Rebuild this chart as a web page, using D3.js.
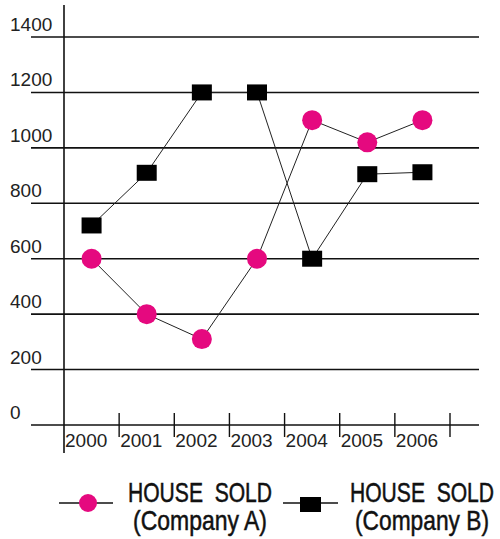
<!DOCTYPE html>
<html>
<head>
<meta charset="utf-8">
<script src="https://cdn.jsdelivr.net/npm/d3@7"></script>
<style>
  html, body { margin: 0; padding: 0; background: #fff; }
  .tick-label { font-family: "Liberation Sans", Arial, sans-serif; font-size: 19px; fill: #222; }
  .legend-text { font-family: "Liberation Sans Narrow", "Liberation Sans", Arial, sans-serif; font-size: 27px; fill: #111; stroke: #111; stroke-width: 0.5px; }
</style>
</head>
<body>
<svg id="chart" width="500" height="539"></svg>
<script>

const YEARS = ["2000", "2001", "2002", "2003", "2004", "2005", "2006"];
const Y_TICKS = [0, 200, 400, 600, 800, 1000, 1200, 1400];
const COMPANY_A = [600, 400, 310, 600, 1100, 1020, 1100];
const COMPANY_B = [720, 910, 1200, 1200, 600, 905, 912];
const LEGEND_TITLE = "HOUSE  SOLD";
const LEGEND_NAMES = ["(Company A)", "(Company B)"];

const PINK = "#e5097f";

let svg = d3.select("#chart");

let x = d3.scaleBand().domain(YEARS).range([64, 450]);
let y = d3.scaleLinear().domain([0, 1400]).range([425, 37]);
const cx = d => x(d) + x.bandwidth() / 2;


/*
  Horizontal grid lines, y axis labels and the vertical axis.
*/
const buildGrid = () => {
  svg.append("g")
     .selectAll("line")
     .data(Y_TICKS).enter()
     .append("line")
     .attr("x1", 31)
     .attr("x2", 479)
     .attr("y1", d => y(d))
     .attr("y2", d => y(d))
     .attr("stroke", "#111")
     .attr("stroke-width", 1.6);

  svg.append("g")
     .selectAll("text")
     .data(Y_TICKS).enter()
     .append("text")
     .attr("class", "tick-label")
     .attr("x", 10)
     .attr("y", d => y(d) - 6)
     .text(d => d);

  svg.append("line")
     .attr("x1", 64).attr("x2", 64)
     .attr("y1", 5).attr("y2", 453)
     .attr("stroke", "#111")
     .attr("stroke-width", 1.6);
}


/*
  Year ticks and labels below the chart.
*/
const buildXAxis = () => {
  svg.append("g")
     .selectAll("line")
     .data(YEARS).enter()
     .append("line")
     .attr("x1", d => x(d) + x.step())
     .attr("x2", d => x(d) + x.step())
     .attr("y1", 413)
     .attr("y2", 437)
     .attr("stroke", "#111")
     .attr("stroke-width", 1.4);

  svg.append("g")
     .selectAll("text")
     .data(YEARS).enter()
     .append("text")
     .attr("class", "tick-label")
     .attr("x", d => x(d) + 1)
     .attr("y", 447)
     .text(d => d);
}


const buildSeries = () => {
  let line = d3.line().x((d, i) => cx(YEARS[i])).y(d => y(d));

  svg.append("path")
     .attr("d", line(COMPANY_A))
     .attr("fill", "none")
     .attr("stroke", "#222")
     .attr("stroke-width", 1);

  svg.append("path")
     .attr("d", line(COMPANY_B))
     .attr("fill", "none")
     .attr("stroke", "#222")
     .attr("stroke-width", 1);

  svg.append("g")
     .selectAll("circle")
     .data(COMPANY_A).enter()
     .append("circle")
     .attr("cx", (d, i) => cx(YEARS[i]))
     .attr("cy", d => y(d))
     .attr("r", 10)
     .attr("fill", PINK);

  svg.append("g")
     .selectAll("rect")
     .data(COMPANY_B).enter()
     .append("rect")
     .attr("x", (d, i) => cx(YEARS[i]) - 10)
     .attr("y", d => y(d) - 8)
     .attr("width", 20)
     .attr("height", 16)
     .attr("fill", "#000");
}


const buildLegend = () => {
  const SQUEEZE = 0.8;
  let legend = svg.append("g");

  // company A
  legend.append("line")
        .attr("x1", 59).attr("x2", 113)
        .attr("y1", 503).attr("y2", 503)
        .attr("stroke", "#111").attr("stroke-width", 1.4);
  legend.append("circle")
        .attr("cx", 88).attr("cy", 503).attr("r", 9)
        .attr("fill", PINK);

  // company B
  legend.append("line")
        .attr("x1", 283).attr("x2", 338)
        .attr("y1", 503).attr("y2", 503)
        .attr("stroke", "#111").attr("stroke-width", 1.4);
  legend.append("rect")
        .attr("x", 300).attr("y", 497)
        .attr("width", 21).attr("height", 15)
        .attr("fill", "#000");

  // narrow-looking labels: squeeze the group horizontally
  const centers = [200, 422];
  LEGEND_NAMES.forEach((name, i) => {
    let g = legend.append("g")
                  .attr("transform", `translate(${centers[i]},0) scale(${SQUEEZE},1)`);
    g.append("text")
     .attr("class", "legend-text")
     .attr("x", 0)
     .attr("y", 502)
     .attr("text-anchor", "middle")
     .attr("textLength", 144 / SQUEEZE)
     .attr("lengthAdjust", "spacingAndGlyphs")
     .style("white-space", "pre")
     .text(LEGEND_TITLE);
    g.append("text")
     .attr("class", "legend-text")
     .attr("x", 0)
     .attr("y", 530)
     .attr("text-anchor", "middle")
     .attr("textLength", 134 / SQUEEZE)
     .attr("lengthAdjust", "spacingAndGlyphs")
     .text(name);
  });
}


buildGrid();
buildXAxis();
buildSeries();
buildLegend();

</script>
</body>
</html>
